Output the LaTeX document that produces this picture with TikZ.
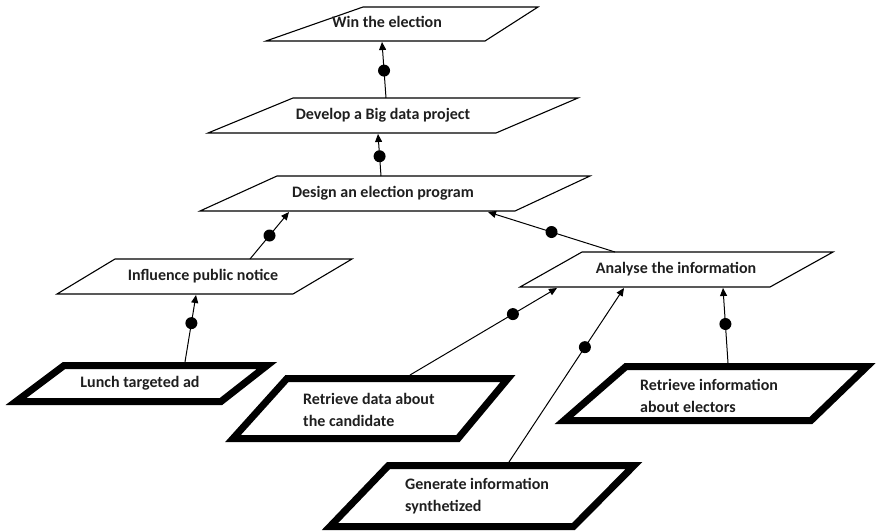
\documentclass[tikz,border=0pt]{standalone}
\usepackage{fontspec}
\setmainfont{Carlito}
\usetikzlibrary{arrows.meta}
\begin{document}
\begin{tikzpicture}[x=1pt,y=-1pt,
  goal/.style={draw=black, line width=1.1pt, line join=miter},
  task/.style={draw=black, line width=7pt, line join=miter, miter limit=20},
  lbl/.style={font=\fontsize{16}{22}\selectfont\bfseries, text=black!88,
              inner sep=0pt, text height=11.5pt, text depth=3.5pt},
  tasklbl/.style={lbl, align=left, anchor=west, text height=, text depth=},
  link/.style={draw=black, line width=1pt, -{Triangle[length=8pt,width=7pt]}},
  dotmark/.style={circle, fill=black, inner sep=0pt, minimum size=12pt},
]
\useasboundingbox (0,0) rectangle (876,531);

% goals: thin parallelograms
\draw[goal] (363,7)   -- (538,7)   -- (485,41)  -- (266,41)  -- cycle;
\draw[goal] (293,98)  -- (578,98)  -- (496,133) -- (208,133) -- cycle;
\draw[goal] (277,176) -- (590,176) -- (515,211) -- (200,211) -- cycle;
\draw[goal] (115,259) -- (352,259) -- (293,294) -- (57,294)  -- cycle;
\draw[goal] (582,252) -- (833,252) -- (770,287) -- (520,287) -- cycle;

% tasks: heavy parallelograms
\draw[task] (64,365.5)  -- (267,365.5) -- (221,401.5) -- (16,401.5)  -- cycle;
\draw[task] (287,378.5) -- (508,378.5) -- (458,438.5) -- (233,438.5) -- cycle;
\draw[task] (626,366.5) -- (867,366.5) -- (811,420.5) -- (564,420.5) -- cycle;
\draw[task] (388.5,465.5) -- (634,465.5) -- (573.5,526.5) -- (330,526.5) -- cycle;

% labels
\node[lbl] (win) at (387,23)  {Win the election};
\node[lbl] (dev) at (383,115) {Develop a Big data project};
\node[lbl] (des) at (383,193) {Design an election program};
\node[lbl] (inf) at (203,276) {Influence public notice};
\node[lbl] (ana) at (676,269) {Analyse the information};
\node[lbl] (lun) at (140,383) {Lunch targeted ad};
\node[tasklbl] (ret) at (303,410) {Retrieve data about\\the candidate};
\node[tasklbl] (ele) at (640,396) {Retrieve information\\about electors};
\node[tasklbl] (gen) at (405,496) {Generate information\\synthetized};

% connector end points on the shape borders
\coordinate (win-in)  at (382,42);
\coordinate (dev-out) at (386,98);
\coordinate (dev-in)  at (378,134);
\coordinate (des-out) at (381,176);
\coordinate (des-in1) at (289,212);
\coordinate (des-in2) at (488,212);
\coordinate (inf-out) at (250,259);
\coordinate (inf-in)  at (196,295);
\coordinate (ana-out) at (615,252);
\coordinate (ana-in1) at (557,288);
\coordinate (ana-in2) at (624,288);
\coordinate (ana-in3) at (723,288);
\coordinate (lun-out) at (185,362);
\coordinate (ret-out) at (410,375);
\coordinate (gen-out) at (509,462);
\coordinate (ele-out) at (728,363);

% contribution links with their dots
\draw[link] (dev-out) -- node[dotmark, pos=.49] (d1) {} (win-in);
\draw[link] (des-out) -- node[dotmark, pos=.47] (d2) {} (dev-in);
\draw[link] (inf-out) -- node[dotmark, pos=.50] (d3) {} (des-in1);
\draw[link] (ana-out) -- node[dotmark, pos=.50] (d4) {} (des-in2);
\draw[link] (lun-out) -- node[dotmark, pos=.58] (d5) {} (inf-in);
\draw[link] (ret-out) -- node[dotmark, pos=.70] (d6) {} (ana-in1);
\draw[link] (gen-out) -- node[dotmark, pos=.66] (d7) {} (ana-in2);
\draw[link] (ele-out) -- node[dotmark, pos=.52] (d8) {} (ana-in3);
\end{tikzpicture}
\end{document}
